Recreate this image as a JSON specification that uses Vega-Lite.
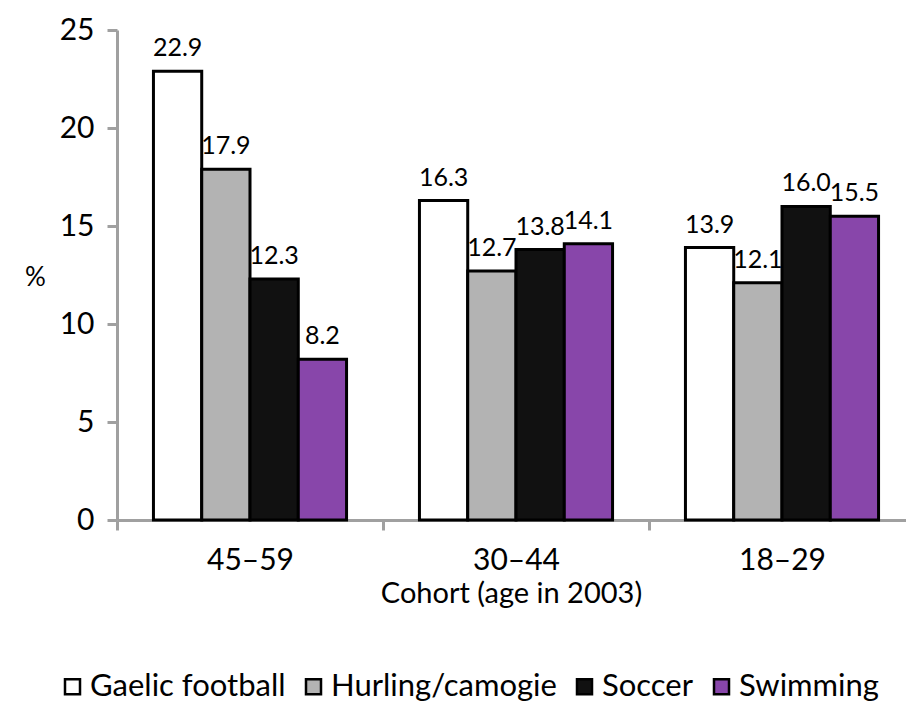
{
  "$schema": "https://vega.github.io/schema/vega-lite/v6.json",
  "width": 789,
  "height": 490,
  "autosize": {"type": "none"},
  "padding": {"left": 117, "top": 30, "right": 0, "bottom": 185},
  "config": {
    "view": {"stroke": null},
    "font": "Lato",
    "axis": {"labelColor": "#000", "titleColor": "#000", "labelFont": "Lato", "titleFont": "Lato", "titleFontWeight": "normal"},
    "legend": {"labelFont": "Lato"}
  },
  "data": {
    "values": [
      {"cohort": "45-59", "sport": "Gaelic football", "pct": 22.9},
      {"cohort": "45-59", "sport": "Hurling/camogie", "pct": 17.9},
      {"cohort": "45-59", "sport": "Soccer", "pct": 12.3},
      {"cohort": "45-59", "sport": "Swimming", "pct": 8.2},
      {"cohort": "30-44", "sport": "Gaelic football", "pct": 16.3},
      {"cohort": "30-44", "sport": "Hurling/camogie", "pct": 12.7},
      {"cohort": "30-44", "sport": "Soccer", "pct": 13.8},
      {"cohort": "30-44", "sport": "Swimming", "pct": 14.1},
      {"cohort": "18-29", "sport": "Gaelic football", "pct": 13.9},
      {"cohort": "18-29", "sport": "Hurling/camogie", "pct": 12.1},
      {"cohort": "18-29", "sport": "Soccer", "pct": 16.0},
      {"cohort": "18-29", "sport": "Swimming", "pct": 15.5}
    ]
  },
  "encoding": {
    "x": {
      "field": "cohort",
      "type": "nominal",
      "sort": ["45-59", "30-44", "18-29"],
      "scale": {"range": [0, 798], "paddingInner": 0, "paddingOuter": 0},
      "axis": {
        "title": "Cohort (age in 2003)",
        "labelAngle": 0,
        "labelFontSize": 30,
        "labelPadding": 15,
        "titleFontSize": 29,
        "titlePadding": 4,
        "titleX": 394,
        "tickBand": "extent",
        "tickSize": 10,
        "tickWidth": 3,
        "tickColor": "#a0a0a0",
        "domainColor": "#a0a0a0",
        "domainWidth": 3,
        "labelExpr": "replace(datum.label, '-', '\u2013')"
      }
    },
    "xOffset": {
      "field": "sport",
      "type": "nominal",
      "sort": ["Gaelic football", "Hurling/camogie", "Soccer", "Swimming"],
      "scale": {"paddingInner": 0, "paddingOuter": 0.755}
    },
    "y": {
      "field": "pct",
      "type": "quantitative",
      "scale": {"domain": [0, 25], "nice": false},
      "axis": {
        "title": "%",
        "titleAngle": 0,
        "titleX": -82,
        "titleY": 247,
        "titleAlign": "center",
        "titleBaseline": "middle",
        "titleFontSize": 26,
        "values": [0, 5, 10, 15, 20, 25],
        "labelFontSize": 30,
        "labelPadding": 13,
        "tickSize": 10,
        "tickWidth": 3,
        "tickColor": "#a0a0a0",
        "domainColor": "#a0a0a0",
        "domainWidth": 3,
        "grid": false
      }
    }
  },
  "layer": [
    {
      "mark": {"type": "bar", "stroke": "#000", "strokeWidth": 3},
      "encoding": {
        "fill": {
          "field": "sport",
          "type": "nominal",
          "sort": ["Gaelic football", "Hurling/camogie", "Soccer", "Swimming"],
          "scale": {"range": ["#ffffff", "#b3b3b3", "#111111", "#8846aa"]},
          "legend": {
            "title": null,
            "orient": "none",
            "direction": "horizontal",
            "legendX": -60,
            "legendY": 641,
            "symbolType": "square",
            "symbolSize": 225,
            "symbolStrokeColor": "#000",
            "symbolStrokeWidth": 2.5,
            "symbolOpacity": 1,
            "labelFontSize": 31,
            "labelColor": "#000",
            "labelOffset": 2,
            "labelLimit": 400,
            "columnPadding": 12
          }
        }
      }
    },
    {
      "mark": {"type": "text", "baseline": "alphabetic", "dy": -15, "fontSize": 25, "color": "#000"},
      "encoding": {
        "text": {"field": "pct", "type": "quantitative", "format": ".1f"}
      }
    }
  ]
}
